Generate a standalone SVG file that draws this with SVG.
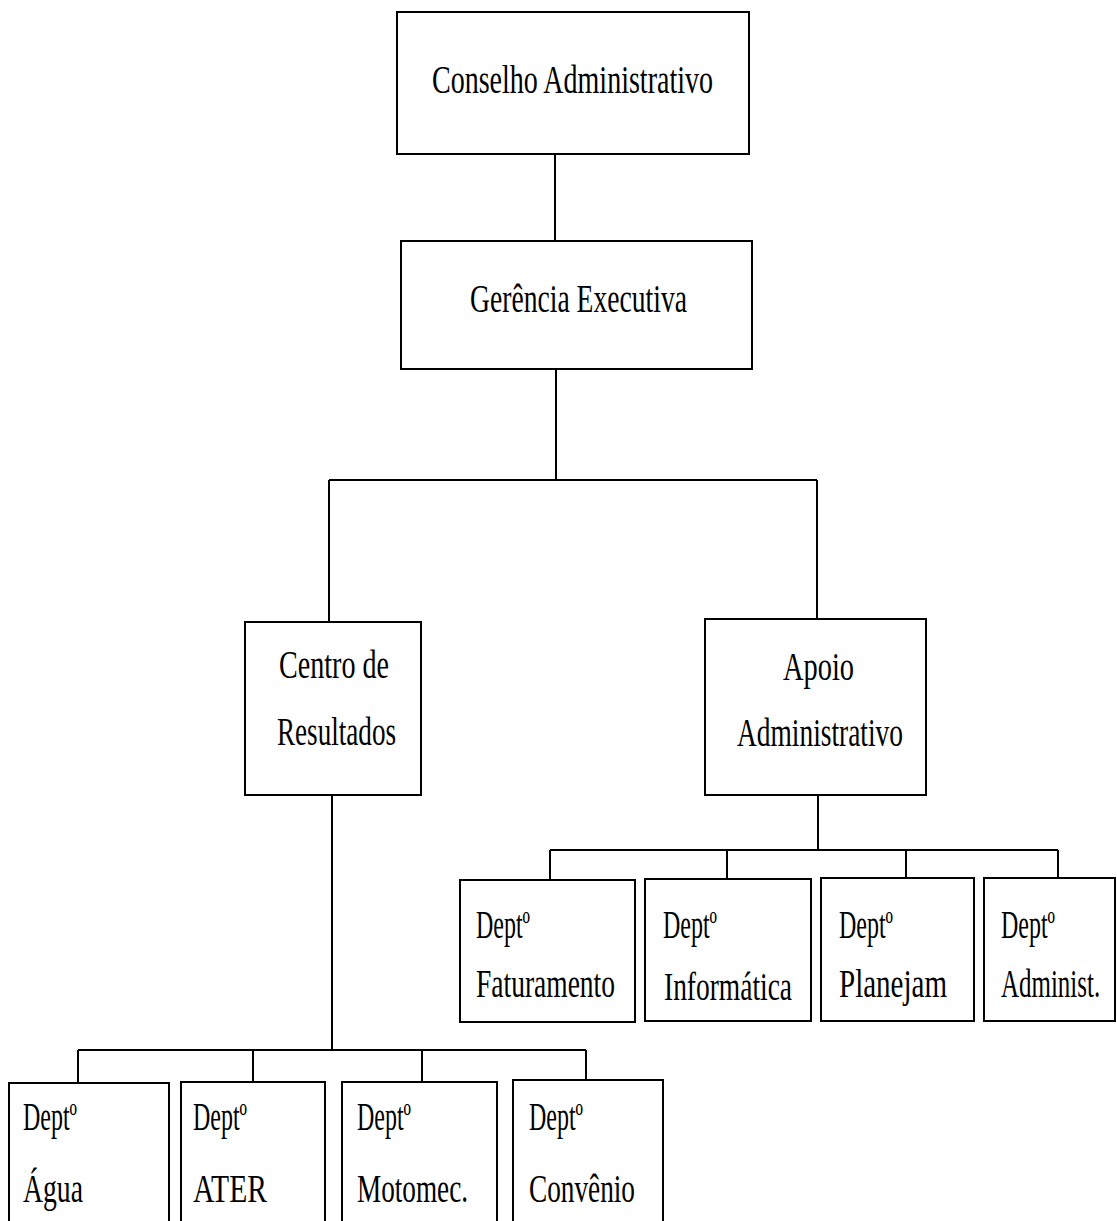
<svg xmlns="http://www.w3.org/2000/svg" width="1117" height="1221" viewBox="0 0 1117 1221">
<style>
.box{fill:#fff;stroke:#000;stroke-width:2}
.ln{stroke:#000;stroke-width:2;fill:none}
text{font-family:"Liberation Serif","Times New Roman",serif;font-size:39px;fill:#000}
</style>
<rect width="1117" height="1221" fill="#fff"/>
<g id="connectors" class="ln">
<path d="M555 154V241"/>
<path d="M556 369V480M329 480H817M329 480V622M817 480V619"/>
<path d="M332 795V1050M78 1050H586M78 1050V1082M253 1050V1082M422 1050V1082M586 1050V1080"/>
<path d="M818 795V850M550 850H1058M550 850V880M727 850V879M906 850V878M1058 850V878"/>
</g>
<g id="conselho"><rect class="box" x="397" y="12" width="352" height="142"/><text x="432" y="93" textLength="281" lengthAdjust="spacingAndGlyphs">Conselho Administrativo</text></g>
<g id="gerencia"><rect class="box" x="401" y="241" width="351" height="128"/><text x="470" y="312" textLength="217" lengthAdjust="spacingAndGlyphs">Gerência Executiva</text></g>
<g id="centro"><rect class="box" x="245" y="622" width="176" height="173"/><text x="279" y="678" textLength="110" lengthAdjust="spacingAndGlyphs">Centro de</text><text x="277" y="745" textLength="119" lengthAdjust="spacingAndGlyphs">Resultados</text></g>
<g id="apoio"><rect class="box" x="705" y="619" width="221" height="176"/><text x="783" y="680" textLength="71" lengthAdjust="spacingAndGlyphs">Apoio</text><text x="737" y="746" textLength="166" lengthAdjust="spacingAndGlyphs">Administrativo</text></g>
<g id="faturamento"><rect class="box" x="460" y="880" width="175" height="142"/><text x="476" y="938" textLength="54" lengthAdjust="spacingAndGlyphs">Deptº</text><text x="476" y="997" textLength="139" lengthAdjust="spacingAndGlyphs">Faturamento</text></g>
<g id="informatica"><rect class="box" x="645" y="879" width="166" height="142"/><text x="663" y="938" textLength="54" lengthAdjust="spacingAndGlyphs">Deptº</text><text x="664" y="1000" textLength="128" lengthAdjust="spacingAndGlyphs">Informática</text></g>
<g id="planejam"><rect class="box" x="821" y="878" width="153" height="143"/><text x="839" y="938" textLength="54" lengthAdjust="spacingAndGlyphs">Deptº</text><text x="839" y="997" textLength="108" lengthAdjust="spacingAndGlyphs">Planejam</text></g>
<g id="administ"><rect class="box" x="984" y="878" width="131" height="143"/><text x="1001" y="938" textLength="54" lengthAdjust="spacingAndGlyphs">Deptº</text><text transform="matrix(0.64 0 0 1 1001 997)" x="0" y="0">Administ.</text></g>
<g id="agua"><rect class="box" x="9" y="1083" width="160" height="160"/><text x="23" y="1130" textLength="54" lengthAdjust="spacingAndGlyphs">Deptº</text><text x="23" y="1202" textLength="60" lengthAdjust="spacingAndGlyphs">Água</text></g>
<g id="ater"><rect class="box" x="181" y="1082" width="144" height="160"/><text x="193" y="1130" textLength="54" lengthAdjust="spacingAndGlyphs">Deptº</text><text x="193" y="1202" textLength="74" lengthAdjust="spacingAndGlyphs">ATER</text></g>
<g id="motomec"><rect class="box" x="342" y="1082" width="155" height="160"/><text x="357" y="1130" textLength="54" lengthAdjust="spacingAndGlyphs">Deptº</text><text x="357" y="1202" textLength="111" lengthAdjust="spacingAndGlyphs">Motomec.</text></g>
<g id="convenio"><rect class="box" x="513" y="1080" width="150" height="160"/><text x="529" y="1130" textLength="54" lengthAdjust="spacingAndGlyphs">Deptº</text><text x="529" y="1202" textLength="106" lengthAdjust="spacingAndGlyphs">Convênio</text></g>
</svg>
